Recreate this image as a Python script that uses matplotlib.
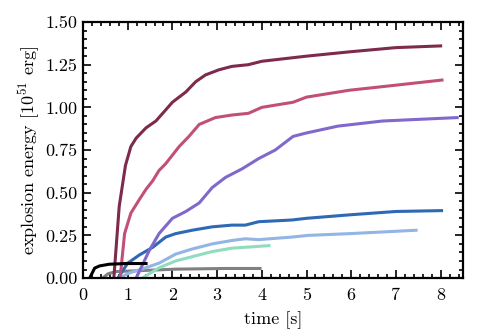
import numpy as np
import matplotlib
matplotlib.use("Agg")
from matplotlib import pyplot as plt
from matplotlib.ticker import MultipleLocator, FormatStrFormatter

plt.rcParams['font.family'] = 'serif'
plt.rcParams['font.serif'] = ['cmr10']
plt.rcParams['mathtext.fontset'] = 'cm'
plt.rcParams['axes.formatter.use_mathtext'] = True

# time [s] and explosion energy [1e51 erg]
t_maroon = [0.69, 0.81, 0.95, 1.07, 1.19, 1.41, 1.63, 1.85, 2.0, 2.3, 2.52, 2.74, 3.04, 3.33, 3.7, 4.0, 5.0, 5.95, 7.0, 8.0]
e_maroon = [0.0, 0.42, 0.66, 0.77, 0.82, 0.88, 0.92, 0.985, 1.03, 1.09, 1.15, 1.19, 1.22, 1.24, 1.25, 1.27, 1.30, 1.325, 1.35, 1.36]

t_pink = [0.83, 0.93, 1.07, 1.26, 1.41, 1.56, 1.7, 1.85, 2.15, 2.37, 2.6, 2.96, 3.33, 3.7, 4.0, 4.7, 5.0, 5.95, 7.0, 8.03]
e_pink = [0.0, 0.26, 0.38, 0.46, 0.52, 0.57, 0.63, 0.67, 0.77, 0.83, 0.9, 0.94, 0.955, 0.965, 1.0, 1.03, 1.06, 1.1, 1.13, 1.16]

t_purple = [1.19, 1.48, 1.7, 2.0, 2.3, 2.6, 2.89, 3.19, 3.56, 3.93, 4.3, 4.7, 5.0, 5.7, 6.7, 8.37]
e_purple = [0.0, 0.16, 0.26, 0.35, 0.39, 0.44, 0.53, 0.59, 0.64, 0.70, 0.75, 0.83, 0.85, 0.89, 0.92, 0.94]

t_blue = [0.78, 1.0, 1.26, 1.56, 1.85, 2.07, 2.44, 2.89, 3.33, 3.63, 3.93, 4.67, 5.0, 5.95, 7.0, 8.02]
e_blue = [0.0, 0.087, 0.135, 0.18, 0.24, 0.26, 0.28, 0.30, 0.31, 0.31, 0.33, 0.34, 0.35, 0.37, 0.39, 0.395]

t_lblue = [0.8, 1.04, 1.4, 1.7, 2.07, 2.44, 2.89, 3.33, 3.63, 3.93, 4.67, 5.04, 5.95, 7.45]
e_lblue = [0.0, 0.03, 0.06, 0.087, 0.14, 0.17, 0.2, 0.22, 0.23, 0.225, 0.24, 0.25, 0.26, 0.28]

t_mint = [1.33, 1.7, 2.07, 2.44, 2.89, 3.33, 3.78, 4.16]
e_mint = [0.0, 0.06, 0.1, 0.125, 0.155, 0.175, 0.183, 0.19]

t_black = [0.15, 0.26, 0.37, 0.59, 0.96, 1.41]
e_black = [0.0, 0.058, 0.071, 0.081, 0.085, 0.085]

t_gray = [0.44, 0.56, 0.74, 1.33, 2.07, 3.19, 3.96]
e_gray = [0.0, 0.025, 0.038, 0.044, 0.052, 0.056, 0.056]

fig = plt.figure(figsize=(5, 3.31), dpi=100)
ax = fig.add_axes([0.166, 0.16, 0.76, 0.7735])

lw = 2.2
ax.plot(t_gray, e_gray, color="#808080", lw=lw)
ax.plot(t_mint, e_mint, color="#8fdcbf", lw=lw)
ax.plot(t_lblue, e_lblue, color="#92b5e5", lw=lw)
ax.plot(t_blue, e_blue, color="#2d69b5", lw=lw)
ax.plot(t_purple, e_purple, color="#8068cc", lw=lw)
ax.plot(t_pink, e_pink, color="#c24f7a", lw=lw)
ax.plot(t_maroon, e_maroon, color="#7d2a4c", lw=lw)
ax.plot(t_black, e_black, color="black", lw=lw)

ax.set_xlim(0, 8.5)
ax.set_ylim(0, 1.5)
ax.xaxis.set_major_locator(MultipleLocator(1))
ax.xaxis.set_minor_locator(MultipleLocator(0.2))
ax.yaxis.set_major_locator(MultipleLocator(0.25))
ax.yaxis.set_minor_locator(MultipleLocator(0.05))
ax.yaxis.set_major_formatter(FormatStrFormatter('%.2f'))
ax.xaxis.set_major_formatter(FormatStrFormatter('%d'))
ax.tick_params(which='both', direction='in', top=True, right=True, labelsize=13, width=1.2)
ax.tick_params(which='major', length=6)
ax.tick_params(which='minor', length=3)
ax.tick_params(axis='x', pad=7)
ax.tick_params(axis='y', pad=4)
for s in ax.spines.values():
    s.set_linewidth(1.6)

ax.set_xlabel("time [s]", fontsize=13, labelpad=6)
ax.set_ylabel("explosion energy [$10^{51}$ erg]", fontsize=13, labelpad=2)

plt.savefig("out.png", dpi=100)
